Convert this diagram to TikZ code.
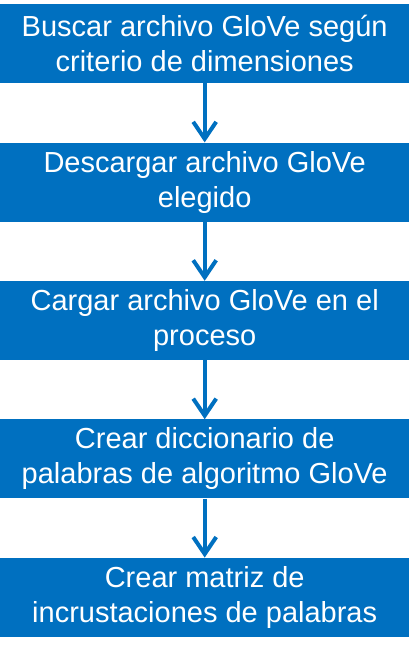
\documentclass[tikz,border=0pt]{standalone}
\usepackage{fontspec}
\setmainfont{Liberation Sans}
\usetikzlibrary{positioning,arrows.meta}
\definecolor{boxblue}{HTML}{0070C0}

\begin{document}
\begin{tikzpicture}[
      x=1pt, y=1pt,
      stepbox/.style={
        fill=boxblue, draw=none, text=white, align=center,
        font=\fontsize{29}{35}\selectfont,
        minimum width=409pt, minimum height=79pt, inner sep=0pt
      },
      flow/.style={
        draw=boxblue, line width=4pt,
        -{Straight Barb[length=17pt,width=23pt,line width=4pt]}
      },
      node distance=59pt
      ]
  \useasboundingbox (0,0) rectangle (414,649);

  % Define nodes
  \node[stepbox, anchor=north west] (buscar) at (0,645)
    {Buscar archivo GloVe según\\criterio de dimensiones};
  \node[stepbox, below=of buscar]    (descargar) {Descargar archivo GloVe\\elegido};
  \node[stepbox, below=of descargar] (cargar)    {Cargar archivo GloVe en el\\proceso};
  \node[stepbox, below=of cargar]    (dicc)      {Crear diccionario de\\palabras de algoritmo GloVe};
  \node[stepbox, below=of dicc]      (matriz)    {Crear matriz de\\incrustaciones de palabras};

  % Connect the nodes
  \foreach \a/\b in {buscar/descargar, descargar/cargar, cargar/dicc, dicc/matriz}
    \draw[flow] (\a) -- (\b);

\end{tikzpicture}
\end{document}
